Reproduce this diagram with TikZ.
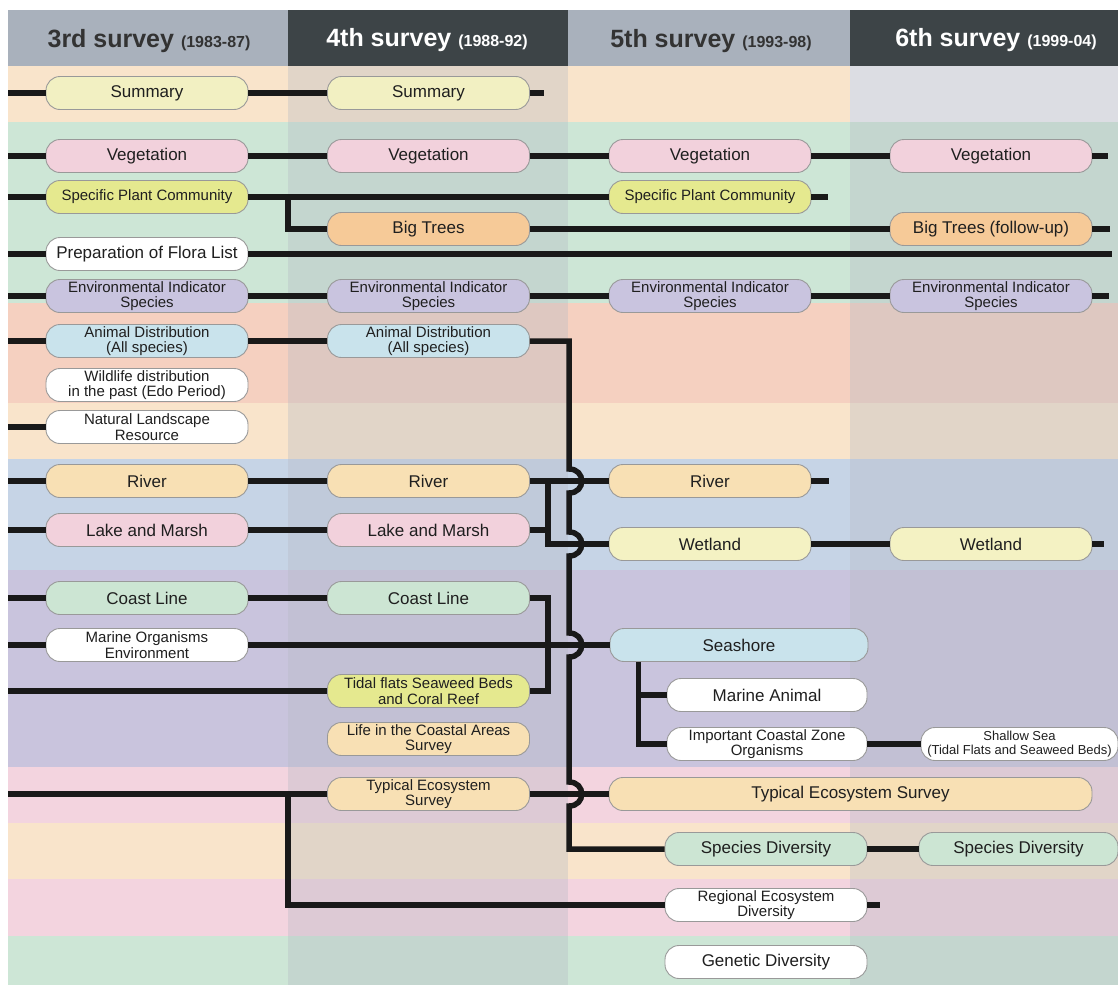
\documentclass[tikz,border=0pt]{standalone}
\usepackage{fontspec}
\setmainfont{Liberation Sans}

\definecolor{hdlight}{HTML}{A9B1BC}
\definecolor{hddark}{HTML}{3D4447}
\definecolor{bgshade}{HTML}{B4B8C2}
\definecolor{bgtop}{HTML}{DCDDE3}
\definecolor{bgpeach}{HTML}{F9E4CB}
\definecolor{bggreen}{HTML}{CDE6D6}
\definecolor{bgsalmon}{HTML}{F5D0C0}
\definecolor{bgblue}{HTML}{C6D4E6}
\definecolor{bglav}{HTML}{C9C4DD}
\definecolor{bgpink}{HTML}{F3D4DF}
\definecolor{fsum}{HTML}{F2F0C2}
\definecolor{fveg}{HTML}{F2D1DC}
\definecolor{fspc}{HTML}{E5E98F}
\definecolor{fenv}{HTML}{C9C4DF}
\definecolor{fani}{HTML}{C9E3EC}
\definecolor{fbig}{HTML}{F6CA98}
\definecolor{friv}{HTML}{F8E0B4}
\definecolor{fwet}{HTML}{F4F2C3}
\definecolor{fcoast}{HTML}{CCE5D3}

\begin{document}
\begin{tikzpicture}[x=1pt,y=-1pt,
	box/.style={rectangle,rounded corners=14pt,draw=black!40,line width=0.9pt,
		minimum width=202pt,minimum height=33pt,inner sep=0pt,align=center,
		text=black!88,font=\fontsize{17}{18}\selectfont},
	small/.style={font=\fontsize{15}{15.5}\selectfont},
	conn/.style={line width=5.5pt,black!90,line join=miter},
	head/.style={font=\fontsize{25}{25}\selectfont\bfseries}]
	\useasboundingbox (0,0) rectangle (1118,985);

	% bands
	\foreach \ya/\yb/\c in {66/122/bgpeach,122/303/bggreen,303/403/bgsalmon,403/459/bgpeach,
		459/570/bgblue,570/767/bglav,767/823/bgpink,823/879/bgpeach,879/936/bgpink,936/985/bggreen}{
		\fill[\c] (8,\ya) rectangle (288,\yb);
		\fill[\c] (568,\ya) rectangle (850,\yb);
		\fill[\c!65!bgshade] (288,\ya) rectangle (568,\yb);
		\fill[\c!65!bgshade] (850,\ya) rectangle (1118,\yb);
	}
	\fill[bgtop] (850,66) rectangle (1118,122);

	% header
	\fill[hdlight] (8,10) rectangle (288,66);
	\fill[hddark] (288,10) rectangle (568,66);
	\fill[hdlight] (568,10) rectangle (850,66);
	\fill[hddark] (850,10) rectangle (1118,66);
	\node[head,text=black!80] (h3) at (149,41) {3rd survey {\fontsize{16}{16}\selectfont(1983-87)}};
	\node[head,text=white] (h4) at (427,40) {4th survey {\fontsize{16}{16}\selectfont(1988-92)}};
	\node[head,text=black!80] (h5) at (711,41) {5th survey {\fontsize{16}{16}\selectfont(1993-98)}};
	\node[head,text=white] (h6) at (996,40) {6th survey {\fontsize{16}{16}\selectfont(1999-04)}};

	% 3rd survey
	\node[box,fill=fsum] (sum3) at (147,93) {Summary};
	\node[box,fill=fveg] (veg3) at (147,156) {Vegetation};
	\node[box,small,fill=fspc] (spc3) at (147,197) {Specific Plant Community};
	\node[box,fill=white] (flora3) at (147,254) {Preparation of Flora List};
	\node[box,small,fill=fenv] (env3) at (147,296) {Environmental Indicator\\Species};
	\node[box,small,fill=fani] (ani3) at (147,341) {Animal Distribution\\(All species)};
	\node[box,small,fill=white] (wild3) at (147,385) {Wildlife distribution\\in the past (Edo Period)};
	\node[box,small,fill=white] (land3) at (147,427) {Natural Landscape\\Resource};
	\node[box,fill=friv] (riv3) at (147,481) {River};
	\node[box,fill=fveg] (lake3) at (147,530) {Lake and Marsh};
	\node[box,fill=fcoast] (coast3) at (147,598) {Coast Line};
	\node[box,small,fill=white] (mar3) at (147,645) {Marine Organisms\\Environment};

	% 4th survey
	\node[box,fill=fsum] (sum4) at (428.5,93) {Summary};
	\node[box,fill=fveg] (veg4) at (428.5,156) {Vegetation};
	\node[box,fill=fbig] (big4) at (428.5,229) {Big Trees};
	\node[box,small,fill=fenv] (env4) at (428.5,296) {Environmental Indicator\\Species};
	\node[box,small,fill=fani] (ani4) at (428.5,341) {Animal Distribution\\(All species)};
	\node[box,fill=friv] (riv4) at (428.5,481) {River};
	\node[box,fill=fveg] (lake4) at (428.5,530) {Lake and Marsh};
	\node[box,fill=fcoast] (coast4) at (428.5,598) {Coast Line};
	\node[box,small,fill=fspc] (tidal4) at (428.5,691) {Tidal flats Seaweed Beds\\and Coral Reef};
	\node[box,small,fill=friv] (life4) at (428.5,739) {Life in the Coastal Areas\\Survey};
	\node[box,small,fill=friv] (typ4) at (428.5,794) {Typical Ecosystem\\Survey};

	% 5th survey
	\node[box,fill=fveg] (veg5) at (710,156) {Vegetation};
	\node[box,small,fill=fspc] (spc5) at (710,197) {Specific Plant Community};
	\node[box,small,fill=fenv] (env5) at (710,296) {Environmental Indicator\\Species};
	\node[box,fill=friv] (riv5) at (710,481) {River};
	\node[box,fill=fwet] (wet5) at (710,544) {Wetland};
	\node[box,fill=fani,minimum width=258pt] (sea5) at (739,645) {Seashore};
	\node[box,fill=white,minimum width=200pt] (mani5) at (767,695) {Marine Animal};
	\node[box,small,fill=white,minimum width=200pt] (ico5) at (767,744) {Important Coastal Zone\\Organisms};
	\node[box,fill=friv,minimum width=483pt] (typ5) at (850.5,794) {Typical Ecosystem Survey};
	\node[box,fill=fcoast] (spd5) at (766,849) {Species Diversity};
	\node[box,small,fill=white] (reg5) at (766,905) {Regional Ecosystem\\Diversity};
	\node[box,fill=white] (gen5) at (766,962) {Genetic Diversity};

	% 6th survey
	\node[box,fill=fveg] (veg6) at (991,156) {Vegetation};
	\node[box,fill=fbig] (big6) at (991,229) {Big Trees (follow-up)};
	\node[box,small,fill=fenv] (env6) at (991,296) {Environmental Indicator\\Species};
	\node[box,fill=fwet] (wet6) at (991,544) {Wetland};
	\node[box,fill=white,minimum width=197pt,font=\fontsize{13}{14}\selectfont] (shal6) at (1019.5,744) {Shallow Sea\\(Tidal Flats and Seaweed Beds)};
	\node[box,fill=fcoast,minimum width=199pt] (spd6) at (1018.5,849) {Species Diversity};

	\coordinate (L) at (8,0);
	\coordinate (R) at (1112,0);
	\coordinate (b1) at (288,0);
	\coordinate (br) at (548,0);
	\coordinate (sb) at ([xshift=29pt]sea5.south west);

	% lines from the left edge
	\foreach \n in {sum3,veg3,spc3,flora3,env3,ani3,land3,riv3,lake3,coast3,mar3,tidal4,typ4}
		\draw[conn] (L |- \n.west) -- (\n.west);

	\draw[conn] (sum3.east) -- (sum4.west) (sum4.east) -- ++(14,0);
	\draw[conn] (veg3.east) -- (veg4.west) (veg4.east) -- (veg5.west) (veg5.east) -- (veg6.west) (veg6.east) -- ++(16,0);
	\draw[conn] (spc3.east) -- (spc5.west) (spc5.east) -- ++(17,0);
	\draw[conn] (b1 |- spc3.east) |- (big4.west);
	\draw[conn] (big4.east) -- (big6.west) (big6.east) -- ++(18,0);
	\draw[conn] (flora3.east) -- (R |- flora3.east);
	\draw[conn] (env3.east) -- (env4.west) (env4.east) -- (env5.west) (env5.east) -- (env6.west) (env6.east) -- ++(17,0);
	\draw[conn] (ani3.east) -- (ani4.west);
	% trunk with jumps
	\draw[conn] (ani4.east) -- (569,341)
		-- (569,469) .. controls (586,469) and (586,493) .. (569,493)
		-- (569,532) .. controls (586,532) and (586,556) .. (569,556)
		-- (569,633) .. controls (586,633) and (586,657) .. (569,657)
		-- (569,782) .. controls (586,782) and (586,806) .. (569,806)
		|- (spd5.west);
	\draw[conn] (riv3.east) -- (riv4.west) (riv4.east) -- (riv5.west) (riv5.east) -- ++(18,0);
	\draw[conn] (br |- riv4.east) |- (wet5.west);
	\draw[conn] (lake3.east) -- (lake4.west) (lake4.east) -- (br |- lake4.east);
	\draw[conn] (wet5.east) -- (wet6.west) (wet6.east) -- ++(12,0);
	\draw[conn] (coast3.east) -- (coast4.west) (coast4.east) -| (br |- tidal4.east) -- (tidal4.east);
	\draw[conn] (mar3.east) -- (sea5.west);
	\draw[conn] (sb) |- (mani5.west) (sb) |- (ico5.west);
	\draw[conn] (ico5.east) -- (shal6.west);
	\draw[conn] (typ4.east) -- (typ5.west);
	\draw[conn] (b1 |- typ4.west) |- (reg5.west);
	\draw[conn] (reg5.east) -- ++(13,0);
	\draw[conn] (spd5.east) -- (spd6.west);
\end{tikzpicture}
\end{document}
